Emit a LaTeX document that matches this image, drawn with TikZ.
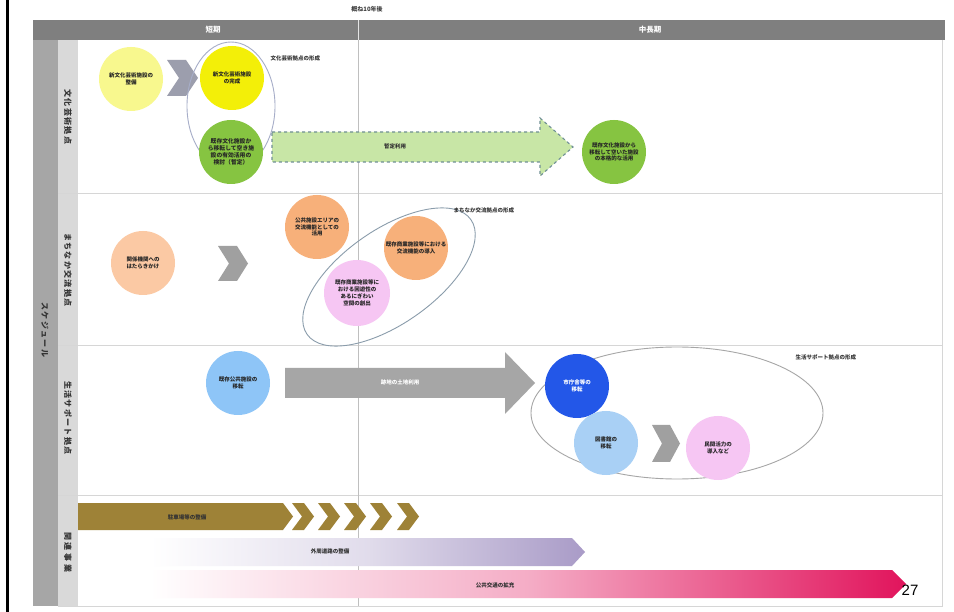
\documentclass[tikz,border=0pt]{standalone}
\usepackage{fontspec}
\newfontfamily\cjk{Noto Sans CJK JP}
\newfontfamily\numfont{Liberation Sans}
\usetikzlibrary{shapes.geometric}
\definecolor{hdr}{HTML}{7F7F7F}
\definecolor{side}{HTML}{A6A6A6}
\definecolor{labcol}{HTML}{D9D9D9}
\definecolor{gridc}{HTML}{D6D6D6}
\definecolor{ylight}{HTML}{F8F88E}
\definecolor{yel}{HTML}{F3EF08}
\definecolor{grn}{HTML}{86C441}
\definecolor{grnarrow}{HTML}{C8E6A6}
\definecolor{orlight}{HTML}{FBC9A4}
\definecolor{ordark}{HTML}{F7B07A}
\definecolor{pinkc}{HTML}{F6C6F3}
\definecolor{bluelight}{HTML}{8EC5F7}
\definecolor{bluedark}{HTML}{2357E8}
\definecolor{bluemid}{HTML}{A9D0F5}
\definecolor{chevgray}{HTML}{A0A0A0}
\definecolor{chevblue}{HTML}{9C9EAD}
\definecolor{brownc}{HTML}{9E8237}
\definecolor{purplec}{HTML}{A99BC7}
\definecolor{magc}{HTML}{E1145C}
\definecolor{ellone}{HTML}{A6ADC8}
\definecolor{elltwo}{HTML}{8A9CAB}
\definecolor{dashc}{HTML}{6F8F95}
\newcommand\ctxt{\cjk\bfseries\fontsize{5.5}{6.8}\selectfont}
\newcommand\mychev[6]{%
  \fill[#6] (#1,#3) -- ({#1+#2-#5},#3) -- ({#1+#2},{(#3+#4)/2}) -- ({#1+#2-#5},#4) -- (#1,#4) -- ({#1+#5},{(#3+#4)/2}) -- cycle;}
\begin{document}
\begin{tikzpicture}[x=1pt,y=-1pt,
  circ/.style={circle,minimum size=64pt,inner sep=0pt,align=center,font=\ctxt,text=black!85},
  rowlab/.style={rotate=-90,font=\cjk\bfseries\fontsize{8}{9}\selectfont,text=black!80},
  note/.style={font=\ctxt,text=black!80,anchor=west},
  bartxt/.style={font=\ctxt,text=black!80}]
\useasboundingbox (0,0) rectangle (954,612);
\fill[white] (0,0) rectangle (954,612);
\draw[black,line width=3pt] (7.5,0) -- (7.5,612);
% frame
\fill[hdr] (33,20) rectangle (945,40);
\fill[side] (33,40) rectangle (58,606);
\fill[labcol] (58,40) rectangle (78,606);
\draw[gridc,line width=0.8pt] (942,40) -- (942,606) -- (58,606);
\foreach \yy in {193,345,495} \draw[gridc,line width=0.8pt] (58,\yy) -- (942,\yy);
\draw[black!25,line width=0.7pt] (358,40) -- (358,606);
\draw[white!80!hdr,line width=0.5pt] (358,20) -- (358,40);
\node[font=\cjk\bfseries\fontsize{6}{7}\selectfont,text=black!75] (ten) at (367,9) {概ね10年後};
\node[font=\cjk\bfseries\fontsize{7.5}{8}\selectfont,text=white] (short) at (213,30) {短期};
\node[font=\cjk\bfseries\fontsize{7.5}{8}\selectfont,text=white] (long) at (650,30) {中長期};
\node[rowlab] (sched) at (45,330) {ス\,ケ\,ジ\,ュ\,ー\,ル};
\node[rowlab] (r1) at (68,117) {文\,化\,芸\,術\,拠\,点};
\node[rowlab] (r2) at (68,270) {ま\,ち\,な\,か\,交\,流\,拠\,点};
\node[rowlab] (r3) at (68,418) {生\,活\,サ\,ポ\,ー\,ト\,拠\,点};
\node[rowlab] (r4) at (68,552) {関\,\,連\,\,事\,\,業};
% ---------- row 1
\mychev{167}{31}{60}{96}{12}{chevblue}
\draw[ellone,line width=0.9pt] (231,106) ellipse [x radius=44pt, y radius=64pt];
\node[circ,fill=ylight] (a1) at (131,79) {新文化芸術施設の\\整備};
\node[circ,fill=yel] (a2) at (232,78) {新文化芸術施設\\の完成};
\node[circ,fill=grn,font=\cjk\bfseries\fontsize{5.8}{7.2}\selectfont] (a3) at (231,152) {既存文化施設か\\ら移転して空き施\\設の有効活用の\\検討（暫定）};
\filldraw[fill=grnarrow,draw=dashc,dashed,line width=1.1pt]
  (272,132) -- (540,132) -- (540,118) -- (573,147) -- (540,176) -- (540,162) -- (272,162) -- cycle;
\node[bartxt] (a4) at (395,146) {暫定利用};
\node[circ,fill=grn] (a5) at (614,152) {既存文化施設から\\移転して空いた施設\\の本格的な活用};
\node[note] (a6) at (267,58) {文化芸術拠点の形成};
% ---------- row 2
\node[circ,fill=orlight] (b1) at (143,263) {関係機関への\\はたらきかけ};
\mychev{218}{30}{246}{281}{11}{chevgray}
\node[circ,fill=ordark] (b2) at (317,227) {公共施設エリアの\\交流機能としての\\活用};
\node[circ,fill=ordark] (b3) at (416,248) {既存商業施設等における\\交流機能の導入};
\node[circ,fill=pinkc,minimum size=66pt] (b4) at (357,293) {既存商業施設等に\\おける回遊性の\\あるにぎわい\\空間の創出};
\draw[elltwo,line width=0.9pt,rotate around={35:(389,277)}] (389,277) ellipse [x radius=100pt, y radius=47pt];
\node[note] (b5) at (450,210) {まちなか交流拠点の形成};
% ---------- row 3
\node[circ,fill=bluelight] (c1) at (238,383) {既存公共施設の\\移転};
\fill[side] (285,368) -- (505,368) -- (505,352) -- (535,383) -- (505,414) -- (505,398) -- (285,398) -- cycle;
\node[font=\ctxt,text=white] (c2) at (400,382) {跡地の土地利用};
\draw[black!35,line width=0.9pt] (677,413) ellipse [x radius=146pt, y radius=66pt];
\node[circ,fill=bluedark,text=white] (c3) at (577,386) {市庁舎等の\\移転};
\node[circ,fill=bluemid] (c4) at (606,443) {図書館の\\移転};
\mychev{652}{28}{425}{462}{10}{chevgray}
\node[circ,fill=pinkc] (c5) at (718,448) {民間活力の\\導入など};
\node[note] (c6) at (792,357) {生活サポート拠点の形成};
% ---------- row 4
\fill[brownc] (78,503) -- (283,503) -- (293,516.5) -- (283,530) -- (78,530) -- cycle;
\foreach \xx in {292,318,344,370,397} {\mychev{\xx}{22}{503}{530}{10}{brownc}}
\node[bartxt] (d1) at (187,517) {駐車場等の整備};
\shade[left color=white,right color=purplec,middle color=purplec!35] (150,538) -- (572,538) -- (585,552) -- (572,566) -- (150,566) -- cycle;
\node[bartxt] (d2) at (330,551) {外周道路の整備};
\shade[left color=white,right color=magc,middle color=magc!35] (150,570) -- (892,570) -- (906,584) -- (892,598) -- (150,598) -- cycle;
\node[bartxt] (d3) at (495,585) {公共交通の拡充};
\node[font=\numfont\fontsize{15}{16}\selectfont] (pg) at (910,590) {27};
\end{tikzpicture}
\end{document}
